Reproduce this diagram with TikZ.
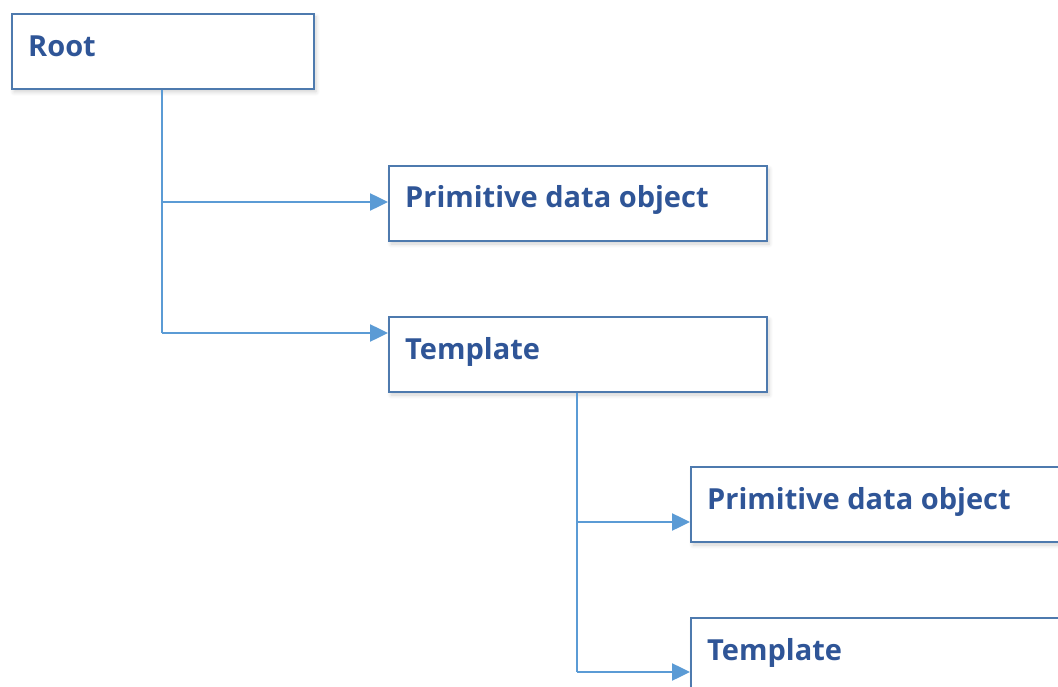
\documentclass[tikz,border=0pt]{standalone}
\usepackage{fontspec}
\setmainfont{Open Sans}
\usetikzlibrary{arrows.meta,shadows.blur}
\definecolor{boxline}{HTML}{4E7AAE}
\definecolor{conn}{HTML}{5B9BD5}
\definecolor{txt}{HTML}{2F5597}
\tikzset{
  itembox/.style={draw=boxline, line width=2pt, fill=white, minimum width=#1, minimum height=75pt,
    anchor=north west, inner sep=0pt,
    blur shadow={shadow xshift=2pt, shadow yshift=-3pt, shadow blur steps=6, shadow blur radius=4pt, shadow opacity=18}},
  itembox/.default=378pt,
  itemtext/.style={anchor=base west, text=txt, font=\bfseries\fontsize{29}{34}\selectfont, inner sep=0pt},
  conn/.style={draw=conn, line width=2.5pt, -{Triangle[length=18pt,width=17pt]}},
  trunk/.style={draw=conn, line width=2.7pt}
}
\begin{document}
\begin{tikzpicture}[x=1pt,y=-1pt]
\useasboundingbox (0,0) rectangle (1058,687);
\clip (0,0) rectangle (1058,687);
\node[itembox=302pt] (root) at (11,13) {};
\node[itembox] (p1) at (388,165) {};
\node[itembox] (t1) at (388,316) {};
\node[itembox] (p2) at (690,466) {};
\node[itembox] (t2) at (690,617) {};
\node[itemtext] (rootl) at (28,57) {Root};
\node[itemtext] (p1l) at (405,208) {Primitive data object};
\node[itemtext] (t1l) at (405,359) {Template};
\node[itemtext] (p2l) at (707,509) {Primitive data object};
\node[itemtext] (t2l) at (707,660) {Template};
\coordinate (j1) at (162,333);
\coordinate (j2) at (577,672);
\coordinate (b1) at (162,202);
\coordinate (b2) at (577,522);
\draw[trunk] (root.south -| j1) -- (j1);
\draw[conn] (b1) -- (b1 -| p1.west);
\draw[conn] (j1) -- (j1 -| t1.west);
\draw[trunk] (t1.south -| j2) -- (j2);
\draw[conn] (b2) -- (b2 -| p2.west);
\draw[conn] (j2) -- (j2 -| t2.west);
\end{tikzpicture}
\end{document}
